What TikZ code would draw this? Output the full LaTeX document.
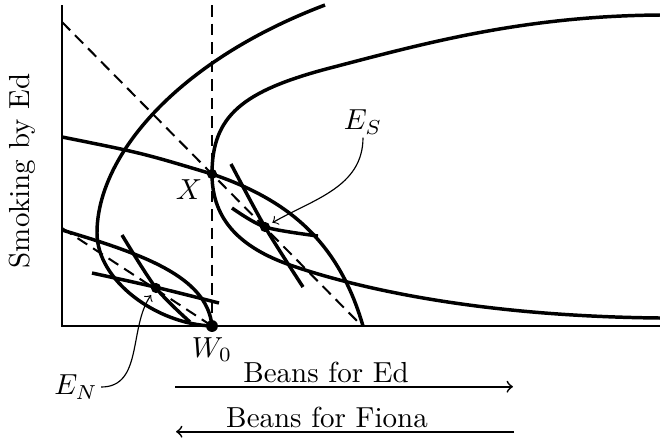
\documentclass[tikz,border=0pt]{standalone}
\usetikzlibrary{positioning}
\begin{document}
\begin{tikzpicture}[x=3.45pt,y=3.45pt,
  axis/.style={line width=0.7pt},
  guide/.style={line width=0.7pt,dash pattern=on 4pt off 2.4pt},
  curve/.style={very thick},
  dot/.style={circle,fill,inner sep=0pt,minimum size=3.5pt},
  lab/.style={inner sep=1pt}]
\useasboundingbox (-6.2,-11.5) rectangle (59.8,32.6);
% axes
\coordinate (o) at (0,0);
\coordinate (ytop) at (0,32.1);
\coordinate (xend) at (59.8,0);
\draw[axis] (ytop) -- (o) -- (xend);
% points
\coordinate (w0) at (15,0);
\coordinate (x) at (15,15.2);
\coordinate (es) at (20.3,9.9);
\coordinate (en) at (9.4,3.8);
% dashed lines
\coordinate (vtop) at (15,32.1);
\coordinate (b1) at (0,30.4);
\coordinate (b2) at (30,0);
\coordinate (c1) at (0,9.8);
\draw[guide] (vtop) -- (w0);
\draw[guide] (b1) -- (b2);
\draw[guide] (c1) -- (w0);
% offer curves
\draw[curve] (w0) .. controls (9.5,0.2) and (3.5,4.5) .. (3.5,9.3)
  .. controls (3.5,17) and (11.5,26.5) .. (26.3,32.1);
\draw[curve] (59.8,31.1) .. controls (46,31) and (36,28.2) .. (26.8,25.8)
  .. controls (18,23.5) and (15,21) .. (x)
  .. controls (15,10.5) and (18,7.8) .. (22.8,6.1)
  .. controls (28,4.3) and (40,1) .. (59.8,0.8);
\draw[curve] (0,18.9) .. controls (8,17.3) .. (x)
  .. controls (22,12.8) and (27.5,9) .. (30.1,0);
\draw[curve] (0,9.6) .. controls (8,7.2) and (14.5,5) .. (w0);
% indifference curves
\draw[curve] (3,5.3) .. controls (9.4,3.9) .. (15.7,2.3);
\draw[curve] plot[smooth] coordinates {(6,9.1) (en) (12.8,0.4)};
\draw[curve] plot[smooth] coordinates {(17,11.8) (es) (25.6,9)};
\draw[curve] plot[smooth] coordinates {(16.9,16.2) (es) (24.1,3.9)};
% dots
\node[dot,minimum size=4.1pt] (W) at (w0) {};
\node[dot] (X) at (x) {};
\node[dot] (ES) at (es) {};
\node[dot] (EN) at (en) {};
% labels
\node[lab] (xl) at (12.7,13.6) {$X$};
\node[lab] (wl) at (15,-2.35) {$W_0$};
\node[lab] (esl) at (30.1,20.4) {$E_S$};
\node[lab] (enl) at (1.4,-6.1) {$E_N$};
\node[rotate=90] (yl) at (-4,15.5) {Smoking by Ed};
\path[->] (esl.south) edge[out=-90,in=30,shorten >=1pt] (ES);
\path[->] (enl.east) edge[out=0,in=235,shorten >=1pt] (EN);
% bean arrows
\node (ed) at (26.4,-4.6) {Beans for Ed};
\node (fi) at (26.5,-9.1) {Beans for Fiona};
\coordinate (a1) at (11.3,-6.07);
\coordinate (a2) at (45.1,-6.07);
\coordinate (f1) at (45.2,-10.57);
\coordinate (f2) at (11.4,-10.57);
\draw[semithick,->] (a1) -- (a2);
\draw[semithick,->] (f1) -- (f2);
\end{tikzpicture}
\end{document}
